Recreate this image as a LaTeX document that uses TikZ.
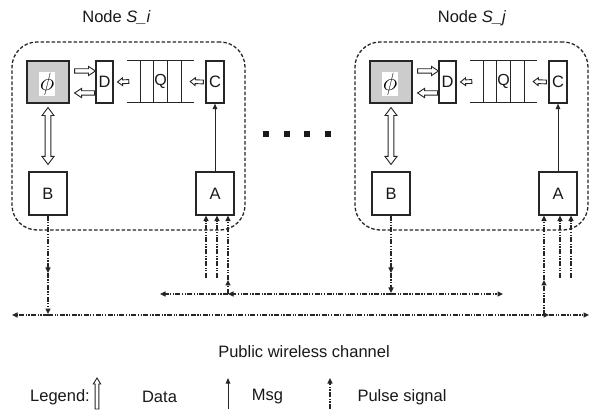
\documentclass[tikz,border=0pt]{standalone}
\usepackage{fontspec}
\setmainfont{Liberation Sans}
\usetikzlibrary{arrows.meta,calc}
\begin{document}
\begin{tikzpicture}[x=1pt,y=1pt,
  txt/.style={inner sep=0pt, text=black!90, font=\fontsize{16.5}{19}\selectfont},
  framebox/.style={draw=black!85, line width=1.3pt, dash pattern=on 3.5pt off 2pt, rounded corners=25pt, inner sep=0pt},
  phibox/.style={draw=black!85, fill=black!20, line width=1.1pt, minimum width=42pt, minimum height=42pt, inner sep=0pt},
  rbox/.style={draw=black!85, line width=1.1pt, inner sep=0pt, text=black!90, font=\fontsize{16.5}{18}\selectfont},
  qbox/.style={inner sep=0pt, minimum width=67pt, minimum height=41pt, text=black!90, font=\fontsize{16}{18}\selectfont},
  qline/.style={draw=black!85, line width=1.1pt},
  msg/.style={draw=black!85, line width=1pt, -{Triangle[length=5.5pt,width=4.5pt]}},
  pulse/.style={draw=black!85, line width=1.1pt, dash pattern=on 5pt off 1.5pt on 1.2pt off 1.5pt on 1.2pt off 1.5pt, -{Triangle[length=5.5pt,width=5pt]}},
  dotsq/.style={fill=black!90, minimum size=6pt, inner sep=0pt},
  blk/.style n args={3}{draw=black!85, line width=0.9pt, fill=white,
    to path={let \p1=(\tikztostart), \p2=(\tikztotarget),
      \n1={atan2(\y2-\y1,\x2-\x1)}, \n2={veclen(\x2-\x1,\y2-\y1)} in
      ($(\p1)+({\n1+90}:#1)$) -- ($(\p1)+(\n1:{\n2-#3})+({\n1+90}:#1)$)
      -- ($(\p1)+(\n1:{\n2-#3})+({\n1+90}:#2)$) -- (\p2)
      -- ($(\p1)+(\n1:{\n2-#3})+({\n1-90}:#2)$) -- ($(\p1)+(\n1:{\n2-#3})+({\n1-90}:#1)$)
      -- ($(\p1)+({\n1-90}:#1)$) -- cycle}},
  blkd/.style n args={3}{draw=black!85, line width=0.9pt, fill=white,
    to path={let \p1=(\tikztostart), \p2=(\tikztotarget),
      \n1={atan2(\y2-\y1,\x2-\x1)}, \n2={veclen(\x2-\x1,\y2-\y1)} in
      (\p2) -- ($(\p1)+(\n1:{\n2-#3})+({\n1+90}:#2)$) -- ($(\p1)+(\n1:{\n2-#3})+({\n1+90}:#1)$)
      -- ($(\p1)+(\n1:#3)+({\n1+90}:#1)$) -- ($(\p1)+(\n1:#3)+({\n1+90}:#2)$) -- (\p1)
      -- ($(\p1)+(\n1:#3)+({\n1-90}:#2)$) -- ($(\p1)+(\n1:#3)+({\n1-90}:#1)$)
      -- ($(\p1)+(\n1:{\n2-#3})+({\n1-90}:#1)$) -- ($(\p1)+(\n1:{\n2-#3})+({\n1-90}:#2)$) -- cycle}}
]
\fill[white] (0,0) rectangle (591,-411);
\useasboundingbox (0,0) rectangle (591,-411);

% titles
\node[txt] (ti) at (116.5,-18) {Node \textit{S\_i}};
\node[txt] (tj) at (472,-18) {Node \textit{S\_j}};

\foreach \s/\k in {0/i,343/j}{
\begin{scope}[xshift=\s pt]
  \node[framebox, minimum width=233pt, minimum height=188pt] (frame\k) at (128.5,-136) {};
  \node[phibox] (phi\k) at (48,-82) {};
  \node[fill=white, inner sep=0.8pt, font=\fontsize{26}{26}\selectfont] (phit\k) at (47,-84) {$\phi$};
  \node[rbox, minimum width=17pt, minimum height=42pt] (D\k) at (104.5,-82) {D};
  \node[qbox] (Q\k) at (160.5,-81.5) {Q};
  \node[rbox, minimum width=18pt, minimum height=42pt] (C\k) at (215,-82) {C};
  \node[rbox, minimum width=38pt, minimum height=43pt] (B\k) at (48,-193.5) {B};
  \node[rbox, minimum width=38pt, minimum height=43pt] (A\k) at (215,-193.5) {A};
  % queue lines
  \draw[qline] (Q\k.north west) -- (Q\k.north east);
  \draw[qline] (Q\k.south west) -- (Q\k.south east);
  \foreach \o in {14,27,41,55}{
    \draw[qline] ([xshift=\o pt]Q\k.north west) -- ([xshift=\o pt]Q\k.south west);
  }
  % block arrows
  \coordinate (u1\k) at ([xshift=5pt,yshift=11pt]phi\k.east);
  \coordinate (u2\k) at ([yshift=11pt]D\k.west);
  \draw[blk={2.2}{4.6}{7}] (u1\k) to (u2\k);
  \coordinate (l1\k) at ([xshift=-1pt,yshift=-11pt]D\k.west);
  \coordinate (l2\k) at ([xshift=5pt,yshift=-11pt]phi\k.east);
  \draw[blk={2.2}{4.6}{7}] (l1\k) to (l2\k);
  \coordinate (q1\k) at ([xshift=2pt]Q\k.west);
  \coordinate (q2\k) at ([xshift=4pt]D\k.east);
  \draw[blk={1.9}{3.9}{5}] (q1\k) to (q2\k);
  \coordinate (c1\k) at ([xshift=-2pt]C\k.west);
  \coordinate (c2\k) at ([xshift=-4pt]Q\k.east);
  \draw[blk={1.9}{3.9}{5}] (c1\k) to (c2\k);
  \coordinate (v1\k) at ([yshift=-4pt]phi\k.south);
  \coordinate (v2\k) at ([yshift=7pt]B\k.north);
  \draw[blkd={2.9}{6}{8}] (v1\k) to (v2\k);
  % message A -> C
  \draw[msg] (A\k.north) -- (C\k.south);
\end{scope}
}

% dots
\node[dotsq] (d1) at (266,-134) {};
\node[dotsq] (d2) at (287,-134) {};
\node[dotsq] (d3) at (307,-134) {};
\node[dotsq] (d4) at (328,-134) {};

% channel coordinates
\coordinate (lleft) at (12,-315);
\coordinate (lright) at (589,-315);
\coordinate (uleft) at (160,-294);
\coordinate (uright) at (503,-294);

% B_i -> lower channel
\coordinate (bim) at (Bi.south |- 0,-273);
\coordinate (bil) at (Bi.south |- 0,-315);
\draw[pulse] (Bi.south) -- (bim);
\draw[pulse] (bim) -- ([yshift=1pt]bil);
\draw[pulse] (bil) -- (lleft);
\coordinate (lj) at (544,-315);
\draw[pulse] (bil) -- ([xshift=5pt]lj);
\draw[pulse] ([xshift=5pt]lj) -- (lright);

% B_j -> upper channel
\coordinate (bjm) at (Bj.south |- 0,-273);
\coordinate (bjl) at (Bj.south |- 0,-294);
\draw[pulse] (Bj.south) -- (bjm);
\draw[pulse] (bjm) -- ([yshift=1pt]bjl);
\draw[pulse] (bjl) -- (uright);
\coordinate (ui) at (228,-294);
\draw[pulse] (bjl) -- (ui);
\draw[pulse] (ui) -- (uleft);

% into A_i
\coordinate (uim) at (228,-280);
\draw[pulse] (ui) -- (uim);
\draw[pulse] (uim) -- (uim |- Ai.south);
\coordinate (fi1) at (206,-278);
\coordinate (fi2) at (217,-278);
\draw[pulse] (fi1) -- (fi1 |- Ai.south);
\draw[pulse] (fi2) -- (fi2 |- Ai.south);

% into A_j
\coordinate (ljm) at (544,-280);
\draw[pulse] (lj) -- (ljm);
\draw[pulse] (ljm) -- (ljm |- Aj.south);
\coordinate (fj1) at (560,-278);
\coordinate (fj2) at (571,-278);
\draw[pulse] (fj1) -- (fj1 |- Aj.south);
\draw[pulse] (fj2) -- (fj2 |- Aj.south);

% channel label
\node[txt] (chan) at (304,-352) {Public wireless channel};

% legend
\node[txt, anchor=west] (leg) at (30,-397) {Legend:};
\coordinate (ld1) at (97,-409);
\coordinate (ld2) at (97,-378);
\draw[blk={1.9}{3.7}{6}] (ld1) to (ld2);
\node[txt] (ldata) at (159.5,-397) {Data};
\coordinate (lm1) at (228,-409);
\coordinate (lm2) at (228,-378);
\draw[msg] (lm1) -- (lm2);
\node[txt] (lmsg) at (267.5,-397) {Msg};
\coordinate (lp1) at (330,-409);
\coordinate (lp2) at (330,-378);
\draw[pulse] (lp1) -- (lp2);
\node[txt] (lpulse) at (402,-397) {Pulse signal};
\end{tikzpicture}
\end{document}
